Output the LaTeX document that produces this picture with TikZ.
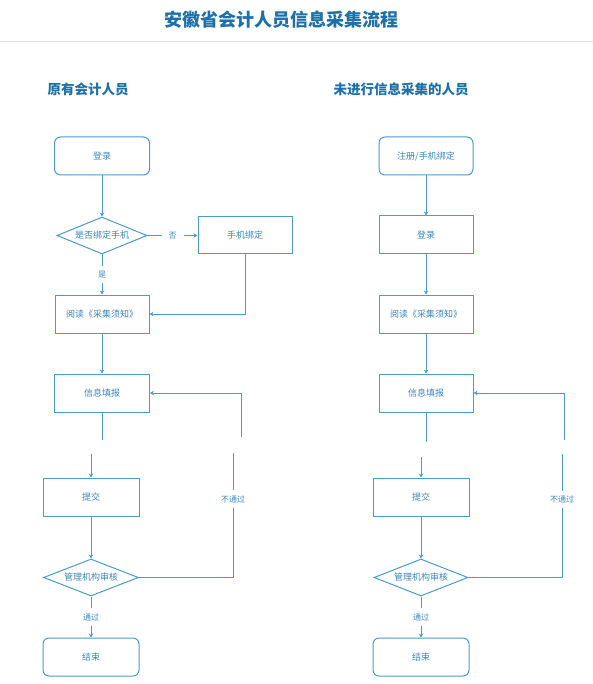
\documentclass[tikz,border=0pt]{standalone}
\usepackage{fontspec}
\newfontfamily\cjk{Noto Sans CJK SC}
\usetikzlibrary{arrows.meta,shapes.geometric}
\definecolor{linec}{HTML}{4A9CCB}
\definecolor{textc}{HTML}{3A86BD}
\definecolor{titlec}{HTML}{1D70A8}
\tikzset{
  box/.style={draw=linec, line width=1pt, minimum width=95pt, minimum height=38pt, inner sep=0pt, font=\cjk\fontsize{9}{10}\selectfont, text=textc},
  rbox/.style={box, rounded corners=6pt},
  dbox/.style={draw=linec, line width=1pt, diamond, minimum width=94pt, minimum height=37pt, inner sep=0pt},
  dtext/.style={font=\cjk\fontsize{9}{10}\selectfont, text=textc},
  conn/.style={draw=linec, line width=1pt},
  arr/.style={conn, -{Stealth[length=4pt,width=4.5pt]}},
  lab/.style={fill=white, font=\cjk\fontsize{8}{9}\selectfont, text=textc, inner xsep=2pt, inner ysep=5pt},
  hlab/.style={lab, inner xsep=7pt, inner ysep=2pt},
  head/.style={font=\cjk\bfseries\fontsize{13.5}{15}\selectfont, text=titlec}
}
\begin{document}
\begin{tikzpicture}[x=1pt,y=-1pt]
\useasboundingbox (0,0) rectangle (593,684);
\fill[white] (0,0) rectangle (593,684);
\node[font=\cjk\bfseries\fontsize{18}{20}\selectfont, text=titlec] (title) at (281,20) {安徽省会计人员信息采集流程};
\coordinate (sepL) at (0,41);
\coordinate (sepR) at (593,41);
\draw[draw=black!12, line width=0.8pt] (sepL) -- (sepR);
\node[head] (hL) at (88,89) {原有会计人员};
\node[head] (hR) at (401,89) {未进行信息采集的人员};

% left column
\node[rbox] (L1) at (102,156) {登录};
\node[dbox, minimum width=90pt] (Ld) at (102,235.5) {};
\node[dtext] (Ldt) at (Ld) {是否绑定手机};
\node[box, minimum width=94pt, minimum height=37pt] (Lm) at (245,235.5) {手机绑定};
\node[box, minimum width=94pt] (L3) at (102,314) {阅读《采集须知》};
\node[box] (L4) at (102,393) {信息填报};
\node[box, minimum width=96pt] (L5) at (91,497) {提交};
\node[dbox, minimum width=95pt] (L6) at (91,577.5) {};
\node[dtext] (L6t) at (L6) {管理机构审核};
\node[rbox, minimum width=96pt] (L7) at (91,657) {结束};

\draw[arr] (L1.south) -- (Ld.north);
\draw[arr] (Ld.east) -- node[hlab] (no) {否} (Lm.west);
\draw[arr] (Ld.south) -- node[lab] (yes) {是} (L3.north);
\draw[arr] (Lm.south) |- (L3.east);
\draw[arr] (L3.south) -- (L4.north);
\coordinate (La) at (102,440);
\coordinate (Lb) at (91,454);
\draw[conn] (L4.south) -- (La);
\draw[arr] (Lb) -- (L5.north);
\draw[arr] (L5.south) -- (L6.north);
\coordinate (Lc) at (233,577.5);
\coordinate (Ld2) at (233,453);
\coordinate (Le) at (241,437);
\coordinate (Lf) at (241,393);
\draw[conn] (L6.east) -- (Lc) -- node[lab, pos=0.63] (nopassL) {不通过} (Ld2);
\draw[arr] (Le) -- (Lf) -- (L4.east);
\draw[arr] (L6.south) -- node[lab] (passL) {通过} (L7.north);

% right column
\node[rbox, minimum width=94pt] (R1) at (426,156) {注册/手机绑定};
\node[box, minimum width=94pt] (R2) at (426,235) {登录};
\node[box, minimum width=94pt] (R3) at (426,314) {阅读《采集须知》};
\node[box, minimum width=94pt] (R4) at (426,393) {信息填报};
\node[box, minimum width=96pt] (R5) at (421,497) {提交};
\node[dbox] (R6) at (421,577.5) {};
\node[dtext] (R6t) at (R6) {管理机构审核};
\node[rbox, minimum width=96pt] (R7) at (421,657) {结束};

\draw[arr] (R1.south) -- (R2.north);
\draw[arr] (R2.south) -- (R3.north);
\draw[arr] (R3.south) -- (R4.north);
\coordinate (Ra) at (426,442);
\coordinate (Rb) at (421,457);
\draw[conn] (R4.south) -- (Ra);
\draw[arr] (Rb) -- (R5.north);
\draw[arr] (R5.south) -- (R6.north);
\coordinate (Rc) at (562,577.5);
\coordinate (Rd) at (562,454);
\coordinate (Re) at (564,440);
\coordinate (Rf) at (564,393);
\draw[conn] (R6.east) -- (Rc) -- node[lab, pos=0.63] (nopassR) {不通过} (Rd);
\draw[arr] (Re) -- (Rf) -- (R4.east);
\draw[arr] (R6.south) -- node[lab] (passR) {通过} (R7.north);
\end{tikzpicture}
\end{document}
